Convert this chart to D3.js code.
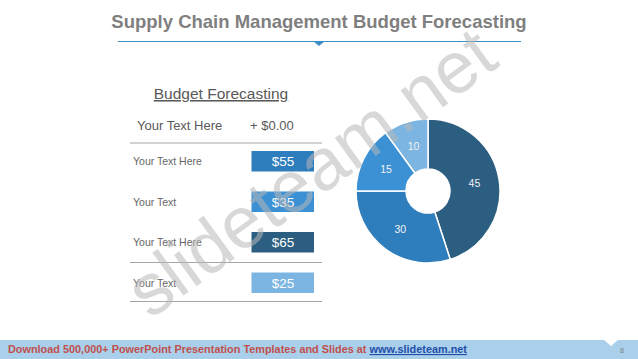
<!DOCTYPE html>
<html lang="en">
<head>
    <meta charset="UTF-8">
    <title>Supply Chain Management Budget Forecasting</title>
    <script src="https://cdn.jsdelivr.net/npm/d3@7"></script>
    <style>
        body { margin: 0; background: #fff; }
        text { font-family: "Liberation Sans", Arial, sans-serif; }
    </style>
</head>
<body>
<script>
    // data
    var rowLabels = ["Your Text Here", "Your Text", "Your Text Here", "Your Text"];
    var rowValues = [55, 35, 65, 25];
    var rowColors = ["#2e7dbd", "#3b91d3", "#2b5e81", "#7cb5e1"];
    var pieValues = [45, 30, 15, 10];
    var pieColors = ["#2b5e81", "#2e7dbd", "#3b91d3", "#7cb5e1"];

    var W = 638, H = 359;
    var svg = d3.select("body").append("svg")
        .attr("width", W)
        .attr("height", H);

    // title + rule with small pointer
    svg.append("text")
        .attr("x", 319).attr("y", 28)
        .attr("text-anchor", "middle")
        .attr("font-size", 18.5).attr("font-weight", "bold")
        .attr("fill", "#7f7f7f")
        .text("Supply Chain Management Budget Forecasting");
    svg.append("line")
        .attr("x1", 118).attr("x2", 521).attr("y1", 41.5).attr("y2", 41.5)
        .attr("stroke", "#3b8ec4").attr("stroke-width", 1);
    svg.append("path")
        .attr("d", "M313,41 L325,41 L319,46 Z")
        .attr("fill", "#3b8ec4");

    // left table
    svg.append("text")
        .attr("x", 221).attr("y", 99)
        .attr("text-anchor", "middle")
        .attr("font-size", 15.5).attr("fill", "#595959")
        .attr("text-decoration", "underline")
        .text("Budget Forecasting");
    svg.append("text")
        .attr("x", 137).attr("y", 130)
        .attr("font-size", 13).attr("fill", "#595959")
        .text("Your Text Here");
    svg.append("text")
        .attr("x", 250).attr("y", 130)
        .attr("font-size", 13).attr("fill", "#595959")
        .text("+ $0.00");

    var y = d3.scaleBand()
        .domain(d3.range(rowValues.length))
        .range([151, 313])
        .paddingInner(0);

    var lines = [143, 262.5, 301.5];
    svg.selectAll("line.sep").data(lines).enter().append("line")
        .attr("class", "sep")
        .attr("x1", 130).attr("x2", 322)
        .attr("y1", function(d) { return d; }).attr("y2", function(d) { return d; })
        .attr("stroke", "#a6a6a6").attr("stroke-width", 1);

    var rows = svg.selectAll("g.row").data(rowValues).enter().append("g")
        .attr("class", "row")
        .attr("transform", function(d, i) { return "translate(0," + y(i) + ")"; });
    rows.append("text")
        .attr("x", 133).attr("y", 14)
        .attr("font-size", 10.5).attr("fill", "#666")
        .text(function(d, i) { return rowLabels[i]; });
    rows.append("rect")
        .attr("x", 251.5).attr("y", 0)
        .attr("width", 62.5).attr("height", 20.5)
        .attr("fill", function(d, i) { return rowColors[i]; });
    rows.append("text")
        .attr("x", 283).attr("y", 15)
        .attr("text-anchor", "middle")
        .attr("font-size", 13.5).attr("fill", "#fff")
        .text(function(d) { return "$" + d; });

    // donut
    var cx = 428, cy = 191;
    var pie = d3.pie().sort(null)(pieValues);
    var arc = d3.arc().innerRadius(22).outerRadius(72);
    var labelArc = d3.arc().innerRadius(47).outerRadius(47);
    var g = svg.append("g").attr("transform", "translate(" + cx + "," + cy + ")");
    g.selectAll("path").data(pie).enter().append("path")
        .attr("d", arc)
        .attr("fill", function(d, i) { return pieColors[i]; })
        .attr("stroke", "#fff").attr("stroke-width", 1.5);
    g.selectAll("text").data(pie).enter().append("text")
        .attr("transform", function(d) { return "translate(" + labelArc.centroid(d) + ")"; })
        .attr("text-anchor", "middle").attr("dy", "0.35em")
        .attr("font-family", "'Open Sans', sans-serif")
        .attr("font-size", 10.5).attr("fill", "#f2f2f2")
        .text(function(d) { return d.data; });

    // watermark
    svg.append("text")
        .attr("transform", "translate(150,320) rotate(-36)")
        .attr("font-size", 73)
        .attr("fill", "#b8b8b8").attr("fill-opacity", 0.55)
        .text("slideteam.net");

    // footer band
    svg.append("path")
        .attr("d", "M0,340 L604,340 L611,346 L618,340 L638,340 L638,359 L0,359 Z")
        .attr("fill", "#a9cfeb");
    var foot = svg.append("text")
        .attr("x", 8).attr("y", 353)
        .attr("font-family", "'Liberation Sans Narrow', 'Liberation Sans', sans-serif")
        .attr("font-size", 11).attr("font-weight", "bold")
        .attr("textLength", 459).attr("lengthAdjust", "spacingAndGlyphs");
    foot.append("tspan").attr("fill", "#c0504d")
        .text("Download 500,000+  PowerPoint Presentation Templates and Slides at ");
    foot.append("tspan").attr("fill", "#1f4ea8")
        .attr("text-decoration", "underline")
        .text("www.slideteam.net");
    svg.append("text")
        .attr("x", 620).attr("y", 353)
        .attr("font-size", 7).attr("fill", "#7f7f7f")
        .text("8");
</script>
</body>
</html>
